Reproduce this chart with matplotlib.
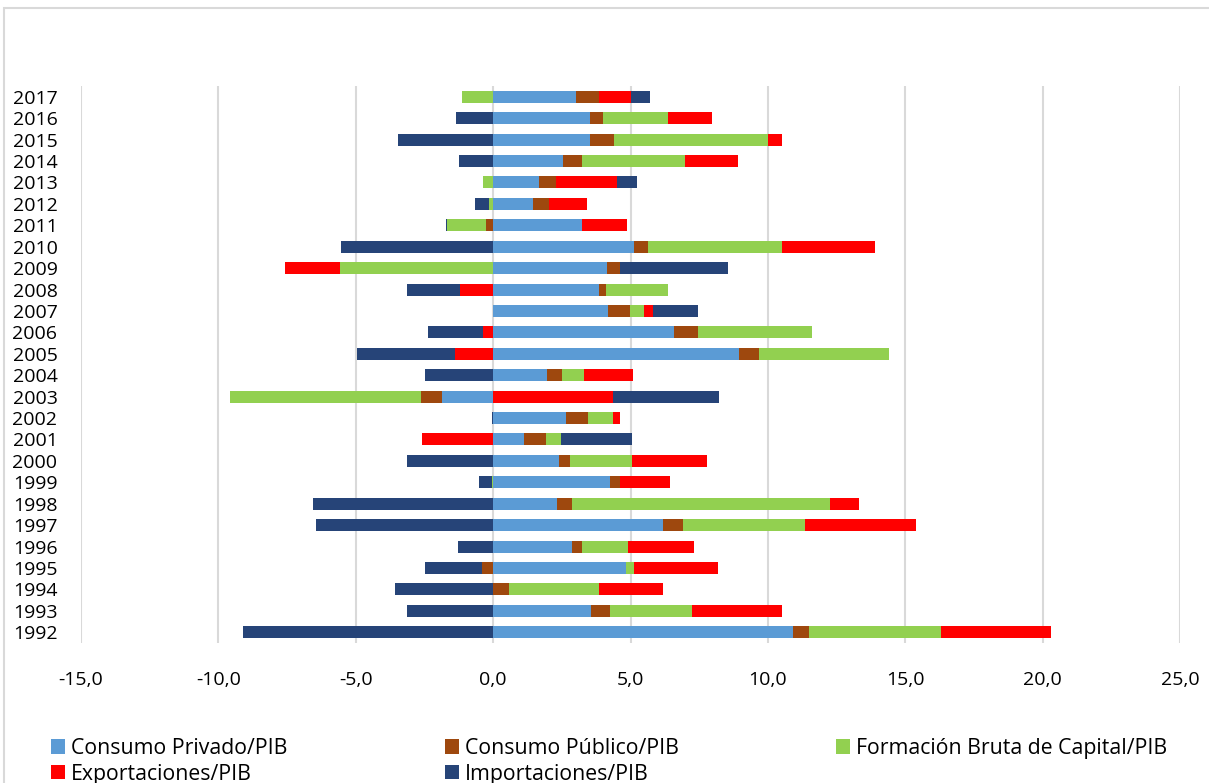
import matplotlib
matplotlib.use("Agg")
import matplotlib.pyplot as plt
import numpy as np
from matplotlib.patches import Rectangle

years = [1992, 1993, 1994, 1995, 1996, 1997, 1998, 1999, 2000, 2001, 2002, 2003, 2004,
         2005, 2006, 2007, 2008, 2009, 2010, 2011, 2012, 2013, 2014, 2015, 2016, 2017]

consumo_privado = [10.92, 3.57, 0.00, 4.83, 2.86, 6.20, 2.33, 4.24, 2.39, 1.12, 2.64, -1.85, 1.97,
                   8.96, 6.57, 4.18, 3.87, 4.13, 5.14, 3.23, 1.46, 1.68, 2.53, 3.54, 3.51, 3.03]
consumo_publico = [0.59, 0.67, 0.59, -0.39, 0.39, 0.70, 0.53, 0.36, 0.39, 0.81, 0.81, -0.79, 0.53,
                   0.70, 0.87, 0.81, 0.25, 0.48, 0.48, -0.25, 0.59, 0.62, 0.70, 0.87, 0.48, 0.81]
formacion_bruta = [4.80, 3.00, 3.28, 0.28, 1.66, 4.44, 9.40, -0.05, 2.27, 0.53, 0.93, -6.93, 0.79,
                   4.74, 4.15, 0.51, 2.25, -5.56, 4.91, -1.43, -0.14, -0.36, 3.76, 5.61, 2.39, -1.15]
exportaciones = [4.01, 3.26, 2.30, 3.06, 2.39, 4.04, 1.04, 1.85, 2.72, -2.58, 0.22, 4.38, 1.80,
                 -1.40, -0.36, 0.31, -1.21, -2.02, 3.37, 1.66, 1.35, 2.22, 1.91, 0.51, 1.57, 1.18]
importaciones = [-9.10, -3.12, -3.57, -2.08, -1.29, -6.46, -6.57, -0.45, -3.12, 2.58, -0.05, 3.85, -2.47,
                 -3.54, -2.02, 1.63, -1.94, 3.93, -5.53, -0.05, -0.53, 0.73, -1.24, -3.48, -1.35, 0.70]

series_names = ["Consumo Privado/PIB", "Consumo Público/PIB", "Formación Bruta de Capital/PIB",
                "Exportaciones/PIB", "Importaciones/PIB"]
series_values = [consumo_privado, consumo_publico, formacion_bruta, exportaciones, importaciones]
colors = ["#5B9BD5", "#9E480E", "#92D050", "#FF0000", "#264478"]

x_ticks = [-15, -10, -5, 0, 5, 10, 15, 20, 25]

plt.rcParams['font.family'] = ['Open Sans', 'DejaVu Sans']

W, H = 1209, 783
fig = plt.figure(figsize=(W / 100, H / 100), dpi=100)
ax = fig.add_axes([81 / W, (H - 643) / H, (1180 - 81) / W, (643 - 86) / H])

ypos = np.arange(len(years))
pos_base = np.zeros(len(years))
neg_base = np.zeros(len(years))
handles = []
for name, vals, c in zip(series_names, series_values, colors):
    v = np.array(vals, dtype=float)
    left = np.where(v >= 0, pos_base, neg_base)
    bars = ax.barh(ypos, v, left=left, height=0.56, color=c, label=name, zorder=3)
    handles.append(bars)
    pos_base = pos_base + np.where(v >= 0, v, 0)
    neg_base = neg_base + np.where(v < 0, v, 0)

ax.set_xlim(-15, 25)
ax.set_ylim(-0.5, len(years) - 0.5)
ax.set_xticks(x_ticks)
ax.set_xticklabels([f"{t:.1f}".replace(".", ",") for t in x_ticks])
ax.set_yticks(ypos)
ax.set_yticklabels([str(y) for y in years])
ax.tick_params(axis='both', length=0, labelsize=14, colors='black')
ax.tick_params(axis='x', pad=20)
ax.tick_params(axis='y', pad=17)
ax.grid(axis='x', color='#D9D9D9', linewidth=1.5, zorder=0)
ax.grid(axis='y', visible=False)
for s in ax.spines.values():
    s.set_visible(False)

# outer chart border
fig.patches.append(Rectangle((4 / W, -0.1), 1.2, (H - 8) / H + 0.1, transform=fig.transFigure,
                             fill=False, edgecolor='#D9D9D9', linewidth=1.5))

order = [0, 3, 1, 4, 2]
leg = fig.legend([handles[i] for i in order], [series_names[i] for i in order],
                 loc='upper left', bbox_to_anchor=(51 / W, (H - 738) / H), ncol=3,
                 frameon=False, fontsize=15.3, handlelength=0.65, handleheight=0.65,
                 handletextpad=0.3, columnspacing=7.4, labelspacing=0.22, borderpad=0,
                 borderaxespad=0)

fig.savefig("out.png", dpi=100)
